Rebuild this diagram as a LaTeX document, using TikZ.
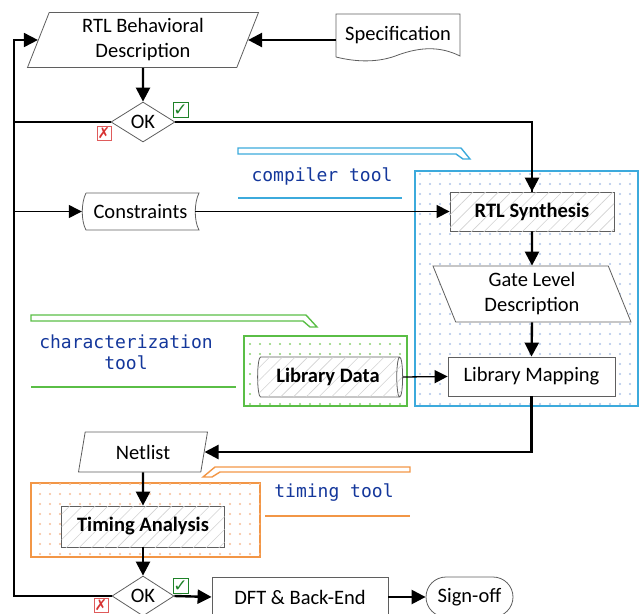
\documentclass[tikz,border=0pt]{standalone}
\usepackage{fontspec}
\setmainfont{Carlito}
\newfontfamily\monof{DejaVu Sans Mono}
\newfontfamily\symf{DejaVu Sans}
\usetikzlibrary{shapes.geometric,shapes.misc,patterns.meta,arrows.meta}
\definecolor{edgec}{RGB}{95,95,95}
\definecolor{hatchc}{RGB}{210,210,210}
\definecolor{toolblue}{RGB}{60,170,220}
\definecolor{dotblue}{RGB}{175,195,232}
\definecolor{toolgreen}{RGB}{90,190,70}
\definecolor{dotgreen}{RGB}{140,210,115}
\definecolor{toolorange}{RGB}{242,150,70}
\definecolor{dotorange}{RGB}{248,190,150}
\definecolor{monoc}{RGB}{20,55,155}
\definecolor{okgreen}{RGB}{30,130,40}
\definecolor{nored}{RGB}{215,50,50}
\begin{document}
\begin{tikzpicture}[x=1pt,y=-1pt,
  base/.style={font=\fontsize{20.5}{25}\selectfont, align=center, inner sep=2pt},
  box/.style={base, draw=edgec, line width=0.8pt, fill=white},
  hatched/.style={postaction={pattern={Lines[angle=45,distance=9pt,line width=0.6pt]}, pattern color=hatchc}},
  para/.style={box, trapezium, trapezium stretches body=true},
  decide/.style={box, diamond, inner sep=0pt},
  toollabel/.style={font=\monof\fontsize{18}{21}\selectfont, text=monoc, align=center},
  bluebox/.style={draw=toolblue, line width=1.4pt, fill=white, postaction={pattern={Dots[distance=10pt,radius=1.1pt]}, pattern color=dotblue}},
  greenbox/.style={draw=toolgreen, line width=1.4pt, fill=white, postaction={pattern={Dots[distance=10pt,radius=1.1pt]}, pattern color=dotgreen}},
  orangebox/.style={draw=toolorange, line width=1.4pt, fill=white, postaction={pattern={Dots[distance=10pt,radius=1.1pt]}, pattern color=dotorange}},
  yes/.style={draw=okgreen, line width=0.9pt, fill=white, text=okgreen, font=\symf\bfseries\fontsize{17}{17}\selectfont, inner sep=0pt, minimum size=15pt, text width=15pt, text height=12pt, text depth=1pt, align=center},
  no/.style={draw=nored!80, line width=0.9pt, fill=white, text=nored, font=\symf\bfseries\fontsize{15}{15}\selectfont, inner sep=0pt, minimum size=14pt, text width=14pt, text height=11pt, text depth=1pt, align=center},
  thick/.style={line width=2.4pt, -{Triangle[length=14pt,width=14pt]}},
  thin/.style={line width=1.3pt, -{Triangle[length=13pt,width=13pt]}}
]
\useasboundingbox (0,0) rectangle (641,614);

% tool regions
\path[bluebox] (415,171) rectangle (638,406);
\path[greenbox] (244,336) rectangle (407,406);
\path[orangebox] (31,483) rectangle (260,557);

% tool banners
\draw[toolblue, line width=1.4pt] (238,148) -- (461,148) -- (470,159) -- (463,159) -- (456,154) -- (238,154) -- cycle;
\draw[toolblue, line width=1.4pt] (238,198) -- (402,198);
\draw[toolgreen, line width=1.4pt] (31,315) -- (306,315) -- (317,327) -- (310,327) -- (303,321) -- (31,321) -- cycle;
\draw[toolgreen, line width=1.4pt] (31,387) -- (236,387);
\draw[toolorange, line width=1.4pt] (215,467) -- (410,467) -- (410,472) -- (220,472) -- (212,477) -- (203,477) -- cycle;
\draw[toolorange, line width=1.4pt] (265,516) -- (410,516);

\node[toollabel] (ctool) at (322,176) {compiler tool};
\node[toollabel] (chtool) at (126,352) {characterization\\tool};
\node[toollabel] (ttool) at (334,493) {timing tool};

% nodes
\node[para, trapezium left angle=65, trapezium right angle=115, minimum width=231pt, minimum height=55pt] (rtl) at (143,40) {RTL Behavioral\\Description};
\node[base, minimum width=124pt, minimum height=42pt] (spec) at (398,35) {Specification};
\draw[edgec, line width=0.8pt] (336,57) -- (336,14) -- (460,14) -- (460,56)
  .. controls (440,46) and (420,47) .. (398,55) .. controls (378,63) and (356,62) .. (336,57);
\node[decide, minimum width=64pt, minimum height=40pt] (ok1) at (143,122) {OK};
\node[yes] (chk1) at (180.5,110) {✓};
\node[no] (x1) at (104,133) {✗};

\node[base, minimum width=117pt, minimum height=37pt] (cons) at (140.5,211.5) {Constraints};
\draw[edgec, line width=0.8pt] (86,193) -- (199,193) .. controls (194,203) and (194,221) .. (199,230)
  -- (86,230) .. controls (81,221) and (81,203) .. (86,193);

\node[box, hatched, font=\fontsize{20.5}{25}\selectfont\bfseries, minimum width=164pt, minimum height=39pt] (synth) at (532,211.5) {RTL Synthesis};
\node[para, trapezium left angle=116, trapezium right angle=64, minimum width=198pt, minimum height=56pt] (gate) at (532,294) {Gate Level\\Description};
\node[box, minimum width=167pt, minimum height=39pt] (map) at (531.5,376.5) {Library Mapping};
\node[box, hatched, cylinder, aspect=0.3, inner sep=1pt, font=\fontsize{20.5}{25}\selectfont\bfseries, minimum height=145pt, minimum width=40pt] (lib) at (328,377) {Library Data};

\node[para, trapezium left angle=70, trapezium right angle=110, minimum width=129pt, minimum height=40pt] (net) at (143,452) {Netlist};
\node[box, hatched, font=\fontsize{20.5}{25}\selectfont\bfseries, minimum width=163pt, minimum height=41pt] (timing) at (143,526.5) {Timing Analysis};
\node[decide, minimum width=62pt, minimum height=40pt] (ok2) at (143,596) {OK};
\node[yes] (chk2) at (180.5,586) {✓};
\node[no] (x2) at (101,605) {✗};
\node[box, minimum width=176pt, minimum height=40pt] (dft) at (300,597) {DFT \& Back-End};
\node[box, rounded rectangle, minimum width=91pt, minimum height=40pt] (sign) at (469.5,597) {Sign-off};

\coordinate (lx) at (14,0);

% connectors
\draw[thick] (spec.west |- rtl.east) -- (rtl.east);
\draw[thick] (rtl.south) -- (ok1.north);
\draw[thick, -] (ok1.east) -| (synth.north);
\draw[thick] (ok1.east -| synth.north) -- (synth.north);
\draw[line width=1.2pt] (ok1.west) -- (ok1.west -| lx);
\draw[line width=1.8pt, -{Triangle[length=14pt,width=14pt]}] (ok2.west) -- (ok2.west -| lx) -- (lx |- rtl.west) -- (rtl.west);
\draw[thin] (lx |- cons.west) -- (cons.west);
\draw[thin] ([xshift=-4pt]cons.east) -- (synth.west);
\draw[thick] (synth.south) -- (gate.north);
\draw[thick] (gate.south) -- (map.north);
\draw[thin] (lib.east) -- (map.west);
\draw[thick] (map.south) |- (net.east);
\draw[thick] (net.south) -- (timing.north);
\draw[thick] (timing.south) -- (ok2.north);
\draw[thick] (ok2.east) -- (dft.west);
\draw[thick] (dft.east) -- (sign.west);
\end{tikzpicture}
\end{document}
